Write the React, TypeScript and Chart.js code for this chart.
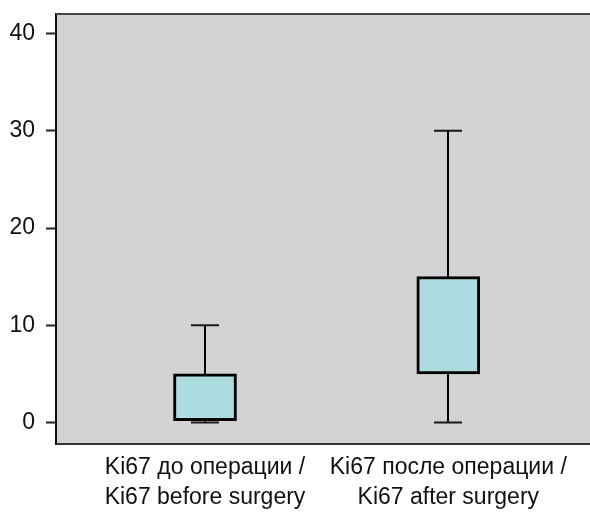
import { useEffect, useRef } from "react";
import { Chart, registerables } from "chart.js";

Chart.register(...registerables);

// ---- data ----
const categories: string[][] = [
  ["Ki67 до операции /", "Ki67 before surgery"],
  ["Ki67 после операции /", "Ki67 after surgery"],
];
const positions = [1, 2];
const mins = [0, 0];
const q1s = [0.2, 5];
const q3s = [5, 15];
const maxs = [10, 30];
const yTicks = [0, 10, 20, 30, 40];

const FONT = "'Liberation Sans', Arial, Helvetica, sans-serif";

const plotBackground = {
  id: "plotBackground",
  beforeDraw(chart: any) {
    const { ctx, chartArea } = chart;
    ctx.save();
    ctx.fillStyle = "#d3d3d5";
    ctx.fillRect(chartArea.left, chartArea.top, chartArea.right - chartArea.left, chartArea.bottom - chartArea.top);
    ctx.restore();
  },
  afterDraw(chart: any) {
    const { ctx, chartArea } = chart;
    ctx.save();
    ctx.strokeStyle = "#444";
    ctx.lineWidth = 2;
    ctx.beginPath();
    ctx.moveTo(chartArea.left, chartArea.top);
    ctx.lineTo(chartArea.right, chartArea.top);
    ctx.stroke();
    ctx.restore();
  },
};

const whiskers = {
  id: "whiskers",
  beforeDatasetsDraw(chart: any) {
    const { ctx } = chart;
    const x = chart.scales.x;
    const y = chart.scales.y;
    ctx.save();
    ctx.lineWidth = 2;
    positions.forEach((p, i) => {
      const px = Math.round(x.getPixelForValue(p));
      const yMin = y.getPixelForValue(mins[i]);
      const yMax = y.getPixelForValue(maxs[i]);
      const yQ1 = y.getPixelForValue(q1s[i]);
      const yQ3 = y.getPixelForValue(q3s[i]);
      ctx.strokeStyle = "#000";
      ctx.beginPath();
      ctx.moveTo(px, yQ3);
      ctx.lineTo(px, yMax);
      ctx.moveTo(px, yQ1);
      ctx.lineTo(px, yMin);
      ctx.stroke();
      ctx.strokeStyle = "#1a1a1a";
      ctx.beginPath();
      ctx.moveTo(px - 14, yMax);
      ctx.lineTo(px + 14, yMax);
      ctx.moveTo(px - 14, yMin);
      ctx.lineTo(px + 14, yMin);
      ctx.stroke();
    });
    ctx.restore();
  },
};

export default function App() {
  const ref = useRef<HTMLCanvasElement | null>(null);

  useEffect(() => {
    if (!ref.current) return;
    const chart = new Chart(ref.current, {
      type: "bar",
      data: {
        datasets: [
          {
            data: positions.map((p, i) => ({ x: p, y: [q1s[i], q3s[i]] })) as any,
            backgroundColor: "#acdce0",
            borderColor: "#000",
            borderWidth: 3,
            borderSkipped: false,
            barThickness: 63,
          },
        ],
      },
      options: {
        responsive: false,
        animation: false,
        events: [],
        layout: { padding: { top: 14, right: 0, left: 0, bottom: 0 } },
        plugins: {
          legend: { display: false },
          tooltip: { enabled: false },
        },
        scales: {
          x: {
            type: "linear",
            offset: false,
            min: 0.3876,
            max: 2.5824,
            afterBuildTicks: (scale: any) => {
              scale.ticks = positions.map((v) => ({ value: v }));
            },
            afterFit: (scale: any) => {
              scale.height = 68;
              scale.paddingLeft = 0;
              scale.paddingRight = 0;
            },
            grid: { display: true, drawOnChartArea: false, drawTicks: false },
            border: { display: true, color: "#333", width: 2 },
            ticks: {
              autoSkip: false,
              maxRotation: 0,
              minRotation: 0,
              padding: 9,
              color: "#111",
              font: { family: FONT, size: 23, lineHeight: 1.28 },
              callback: (value: any) => categories[positions.indexOf(Math.round(Number(value)))] as any,
            },
          },
          y: {
            type: "linear",
            min: -2.2,
            max: 42,
            afterBuildTicks: (scale: any) => {
              scale.ticks = yTicks.map((v) => ({ value: v }));
            },
            afterFit: (scale: any) => {
              scale.width = 56;
              scale.paddingTop = 0;
              scale.paddingBottom = 0;
            },
            grid: {
              display: true,
              drawOnChartArea: false,
              drawTicks: true,
              tickLength: 10,
              tickColor: "#222",
              tickWidth: 2,
            },
            border: { display: true, color: "#111", width: 2 },
            ticks: {
              padding: 11,
              color: "#111",
              font: { family: FONT, size: 23 },
            },
          },
        },
      },
      plugins: [plotBackground, whiskers],
    });
    return () => chart.destroy();
  }, []);

  return (
    <div style={{ position: "absolute", left: 0, top: 0, width: 590, height: 512, background: "#fff" }}>
      <canvas ref={ref} width={590} height={512} style={{ width: 590, height: 512, display: "block" }} />
    </div>
  );
}
